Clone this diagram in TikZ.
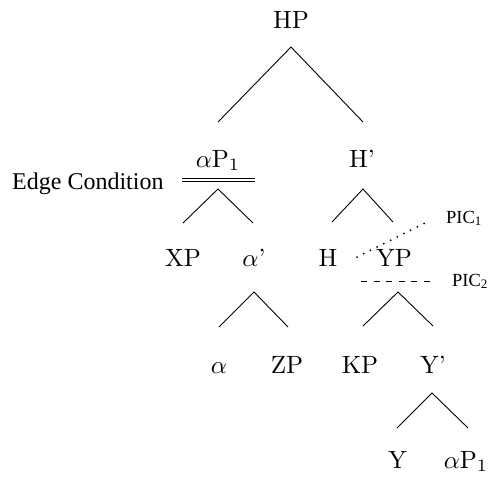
\documentclass[tikz,border=0pt]{standalone}
\usepackage{graphicx}
\usepackage{fontspec}
\newfontfamily\lib{Liberation Serif}
\newcommand\treelab[1]{\scalebox{2.5}{\fontsize{10}{12}\selectfont #1}}
\begin{document}
\begin{tikzpicture}[x=1pt,y=-1pt,
  lab/.style={anchor=base,inner sep=0pt},
  note/.style={anchor=base west,inner sep=0pt,font=\lib\fontsize{18.5}{22}\selectfont},
  edgelab/.style={anchor=base west,inner sep=0pt,font=\lib\fontsize{24}{28}\selectfont},
  br/.style={line width=0.9pt},
  pic/.style={line width=2pt,line cap=round,dash pattern=on 0pt off 7.5pt},
  pictwo/.style={line width=0.8pt,dash pattern=on 6pt off 6.6pt},
  dbl/.style={line width=0.8pt}]
\useasboundingbox (0,0) rectangle (498,483);
% nodes
\node[lab] (HP) at (291,28) {\treelab{HP}};
\node[lab] (aP) at (218,167) {\treelab{$\alpha$P$_1$}};
\node[lab] (Hb) at (362,167) {\treelab{H'}};
\node[lab] (XP) at (183,266) {\treelab{XP}};
\node[lab] (ab) at (254,266) {\treelab{$\alpha$'}};
\node[lab] (H) at (328,266) {\treelab{H}};
\node[lab] (YP) at (394,266) {\treelab{YP}};
\node[lab] (al) at (219,373) {\treelab{$\alpha$}};
\node[lab] (ZP) at (287,373) {\treelab{ZP}};
\node[lab] (KP) at (360,373) {\treelab{KP}};
\node[lab] (Yb) at (433,373) {\treelab{Y'}};
\node[lab] (Y) at (397.5,468) {\treelab{Y}};
\node[lab] (aP2) at (466,468) {\treelab{$\alpha$P$_1$}};
\node[edgelab] (EC) at (12,189) {Edge Condition};
\node[note] (PICa) at (446,223) {PIC\textsubscript{1}};
\node[note] (PICb) at (452,286) {PIC\textsubscript{2}};
% branch points
\coordinate (HPa) at (291,47);  \coordinate (HPl) at (218,122); \coordinate (HPr) at (363,122);
\coordinate (aPa) at (218,189); \coordinate (aPl) at (183,223); \coordinate (aPr) at (253,223);
\coordinate (Hba) at (363,189); \coordinate (Hbl) at (332,222); \coordinate (Hbr) at (393,222);
\coordinate (aba) at (254,292); \coordinate (abl) at (219,327); \coordinate (abr) at (288,327);
\coordinate (YPa) at (398,292); \coordinate (YPl) at (363,326); \coordinate (YPr) at (433,326);
\coordinate (Yba) at (432,393); \coordinate (Ybl) at (397,428); \coordinate (Ybr) at (468,428);
\draw[br] (HPl) -- (HPa) -- (HPr);
\draw[br] (aPl) -- (aPa) -- (aPr);
\draw[br] (Hbl) -- (Hba) -- (Hbr);
\draw[br] (abl) -- (aba) -- (abr);
\draw[br] (YPl) -- (YPa) -- (YPr);
\draw[br] (Ybl) -- (Yba) -- (Ybr);
% edge condition double line
\coordinate (dl1) at (182,178.5); \coordinate (dr1) at (255,178.5);
\coordinate (dl2) at (182,181.8); \coordinate (dr2) at (255,181.8);
\draw[dbl] (dl1) -- (dr1);
\draw[dbl] (dl2) -- (dr2);
% PIC lines
\coordinate (p1s) at (357,257); \coordinate (p1e) at (425,223);
\coordinate (p2s) at (361,281); \coordinate (p2e) at (432,281);
\draw[pic] (p1s) -- (p1e);
\draw[pictwo] (p2s) -- (p2e);
\end{tikzpicture}
\end{document}
